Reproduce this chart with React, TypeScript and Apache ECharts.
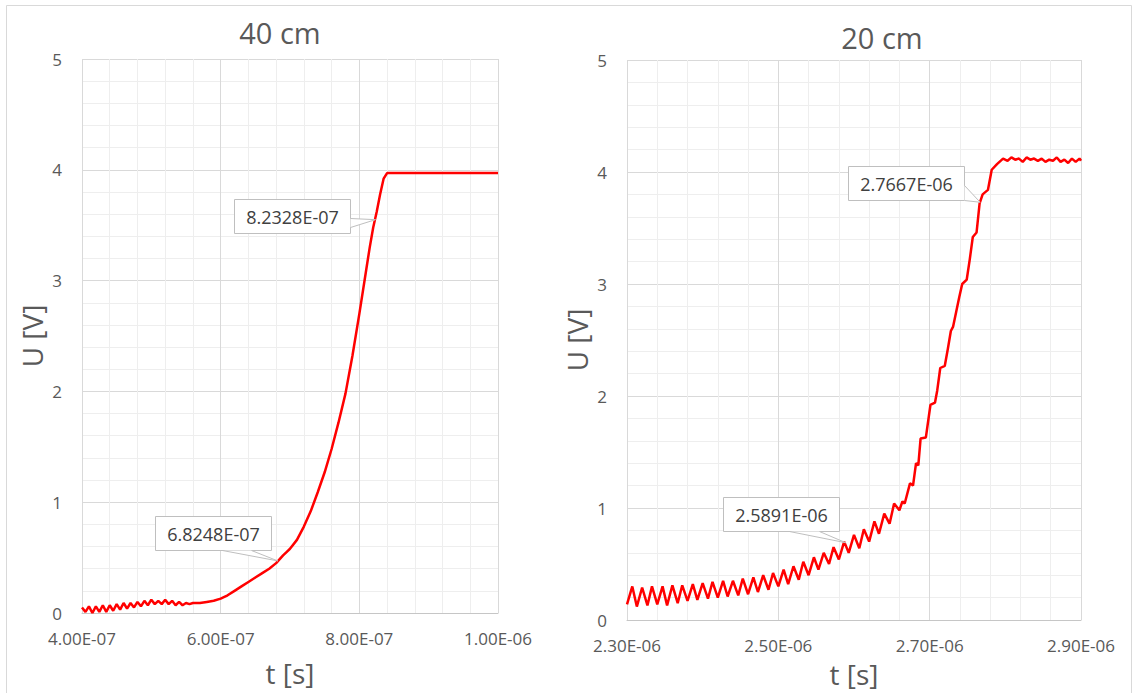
import React, { useEffect, useRef } from 'react';
import * as echarts from 'echarts';

// ---------------- data (time in ns, voltage in V) ----------------
const leftTimeNs = [
  400, 405, 410, 415, 420, 425, 430, 435, 440, 445, 450, 455, 460, 465, 470, 475,
  480, 485, 490, 495, 500, 505, 510, 515, 520, 525, 530, 535, 540, 545, 550, 555,
  560, 570, 580, 590, 600, 610, 620, 630, 640, 650, 660, 670, 680, 690, 695, 700,
  710, 720, 730, 740, 750, 760, 770, 780, 790, 800, 810, 815, 820, 825, 830, 835,
  840, 850, 900, 950, 1000,
];
const leftVoltage = [
  0.05, 0.01, 0.06, 0.0, 0.06, 0.01, 0.07, 0.01, 0.07, 0.02, 0.08, 0.03, 0.09, 0.04, 0.09, 0.05,
  0.1, 0.06, 0.11, 0.07, 0.12, 0.08, 0.11, 0.08, 0.12, 0.08, 0.11, 0.07, 0.1, 0.07, 0.09, 0.08,
  0.09, 0.09, 0.1, 0.11, 0.13, 0.16, 0.2, 0.24, 0.28, 0.32, 0.36, 0.4, 0.45, 0.52, 0.55, 0.58,
  0.66, 0.78, 0.92, 1.09, 1.27, 1.48, 1.72, 1.98, 2.32, 2.7, 3.1, 3.3, 3.48, 3.62, 3.78, 3.92,
  3.97, 3.97, 3.97, 3.97, 3.97,
];

const rightTimeNs = [
  2300, 2307, 2313, 2320, 2327, 2333, 2340, 2347, 2353, 2360, 2367, 2373, 2380, 2387, 2393,
  2400, 2407, 2413, 2420, 2427, 2433, 2440, 2447, 2453, 2460, 2467, 2473, 2480, 2487, 2493,
  2500, 2507, 2513, 2520, 2527, 2533, 2540, 2547, 2553, 2560, 2567, 2573, 2580, 2587, 2593,
  2600, 2607, 2613, 2620, 2627, 2633, 2640, 2647, 2653, 2660, 2664, 2667, 2674, 2678, 2682,
  2685, 2688, 2695, 2701, 2707, 2710, 2714, 2720, 2724, 2728, 2731, 2735, 2739, 2743, 2749,
  2753, 2757, 2762, 2766, 2770, 2777, 2782, 2789, 2797, 2803, 2808, 2813, 2818, 2823, 2828,
  2833, 2838, 2843, 2848, 2853, 2858, 2863, 2868, 2873, 2878, 2883, 2888, 2893, 2898, 2900,
];
const rightVoltage = [
  0.14, 0.3, 0.12, 0.29, 0.13, 0.3, 0.14, 0.3, 0.13, 0.31, 0.15, 0.31, 0.17, 0.32, 0.18,
  0.33, 0.19, 0.34, 0.2, 0.35, 0.21, 0.35, 0.22, 0.37, 0.23, 0.38, 0.25, 0.4, 0.27, 0.42,
  0.3, 0.45, 0.32, 0.48, 0.36, 0.52, 0.4, 0.56, 0.45, 0.6, 0.5, 0.65, 0.54, 0.7, 0.6,
  0.76, 0.64, 0.81, 0.7, 0.88, 0.77, 0.95, 0.86, 1.04, 0.98, 1.06, 1.04, 1.22, 1.2, 1.4,
  1.38, 1.62, 1.63, 1.92, 1.94, 2.05, 2.25, 2.27, 2.42, 2.58, 2.62, 2.75, 2.88, 3.0, 3.04,
  3.22, 3.42, 3.46, 3.72, 3.8, 3.84, 4.02, 4.07, 4.12, 4.1, 4.13, 4.11, 4.12, 4.09, 4.13,
  4.11, 4.12, 4.1, 4.12, 4.09, 4.11, 4.1, 4.13, 4.09, 4.11, 4.08, 4.12, 4.09, 4.12, 4.1,
];

const leftCalloutTimesNs = [823.28, 682.48];
const leftCalloutVoltages = [3.55, 0.47];
const rightCalloutTimesNs = [2766.7, 2589.1];
const rightCalloutVoltages = [3.73, 0.69];

const chartTitles = ['40 cm', '20 cm'];
const xAxisName = 't [s]';
const yAxisName = 'U [V]';

const RIGHT_T0 = 2300; // offset so that ticks start at a multiple of the interval

// ---------------- helpers ----------------
const FONT = "'Open Sans', 'DejaVu Sans', sans-serif";
const GREY = '#595959';

function sci(seconds: number, digits: number): string {
  const s = seconds.toExponential(digits);
  const [m, e] = s.split('e');
  const n = parseInt(e, 10);
  return m + 'E' + (n < 0 ? '-' : '+') + String(Math.abs(n)).padStart(2, '0');
}

function makeXAxis(gridIndex: number, min: number, max: number, offset: number, nameGap: number) {
  return {
    type: 'value',
    gridIndex,
    min,
    max,
    interval: 200,
    axisLine: { show: true, lineStyle: { color: '#c6c6c6', width: 1 } },
    axisTick: { show: false },
    axisLabel: {
      color: GREY,
      fontSize: 17,
      fontFamily: FONT,
      margin: 17,
      formatter: (v: number) => sci((v + offset) * 1e-9, 2),
    },
    splitLine: { show: true, lineStyle: { color: '#d9d9d9', width: 1 } },
    minorTick: { show: false, splitNumber: 5 },
    minorSplitLine: { show: true, lineStyle: { color: '#eeeeee', width: 1 } },
    name: xAxisName,
    nameLocation: 'middle',
    nameGap,
    nameTextStyle: { color: GREY, fontSize: 28, fontFamily: FONT },
  };
}

function makeYAxis(gridIndex: number) {
  return {
    type: 'value',
    gridIndex,
    min: 0,
    max: 5,
    interval: 1,
    axisLine: { show: false },
    axisTick: { show: false },
    axisLabel: { color: GREY, fontSize: 17, fontFamily: FONT, margin: 20 },
    splitLine: { show: true, lineStyle: { color: '#d9d9d9', width: 1 } },
    minorTick: { show: false, splitNumber: 5 },
    minorSplitLine: { show: true, lineStyle: { color: '#eeeeee', width: 1 } },
    name: yAxisName,
    nameLocation: 'middle',
    nameRotate: 90,
    nameGap: 36,
    nameTextStyle: { color: GREY, fontSize: 28, fontFamily: FONT },
  };
}

// callout geometry (box relative to the pointed data point, wedge base relative to box)
const BOX_W = 116;
const BOX_H = 34;
const calloutGeometry = [
  { dx: -141, dy: -21, base: [[116, 19], [116, 28]] },
  { dx: -123, dy: -45, base: [[67, 34], [96, 34]] },
  { dx: -132, dy: -36, base: [[116, 19], [116, 34]] },
  { dx: -123, dy: -46, base: [[66, 34], [96, 34]] },
];

export default function App() {
  const ref = useRef<HTMLDivElement>(null);

  useEffect(() => {
    if (!ref.current) return;
    const chart = echarts.init(ref.current, null, { renderer: 'svg' });

    const leftData = leftTimeNs.map((t, i) => [t, leftVoltage[i]]);
    const rightData = rightTimeNs.map((t, i) => [t - RIGHT_T0, rightVoltage[i]]);

    const option: any = {
      animation: false,
      backgroundColor: '#ffffff',
      textStyle: { fontFamily: FONT },
      grid: [
        { left: 82, right: 637, top: 59, bottom: 80 },
        { left: 627, right: 54, top: 60, bottom: 73 },
      ],
      xAxis: [makeXAxis(0, 400, 1000, 0, 46), makeXAxis(1, 0, 600, RIGHT_T0, 40)],
      yAxis: [makeYAxis(0), makeYAxis(1)],
      series: [
        {
          type: 'line',
          xAxisIndex: 0,
          yAxisIndex: 0,
          data: leftData,
          symbol: 'none',
          showSymbol: false,
          lineStyle: { color: '#ff0000', width: 2.5 },
          z: 3,
        },
        {
          type: 'line',
          xAxisIndex: 1,
          yAxisIndex: 1,
          data: rightData,
          symbol: 'none',
          showSymbol: false,
          lineStyle: { color: '#ff0000', width: 2.5 },
          z: 3,
        },
      ],
    };
    chart.setOption(option);

    const graphics: any[] = [
      {
        type: 'rect',
        silent: true,
        z: 0,
        shape: { x: 6.5, y: 5.5, width: 1125, height: 720 },
        style: { fill: 'none', stroke: '#d9d9d9', lineWidth: 1 },
      },
      {
        type: 'text',
        x: 280,
        y: 32,
        style: {
          text: chartTitles[0],
          align: 'center',
          verticalAlign: 'middle',
          fontSize: 29,
          fontFamily: FONT,
          fill: GREY,
        },
      },
      {
        type: 'text',
        x: 882,
        y: 37,
        style: {
          text: chartTitles[1],
          align: 'center',
          verticalAlign: 'middle',
          fontSize: 29,
          fontFamily: FONT,
          fill: GREY,
        },
      },
    ];

    const callouts = [
      { grid: 0, t: leftCalloutTimesNs[0], x: leftCalloutTimesNs[0], v: leftCalloutVoltages[0] },
      { grid: 0, t: leftCalloutTimesNs[1], x: leftCalloutTimesNs[1], v: leftCalloutVoltages[1] },
      { grid: 1, t: rightCalloutTimesNs[0], x: rightCalloutTimesNs[0] - RIGHT_T0, v: rightCalloutVoltages[0] },
      { grid: 1, t: rightCalloutTimesNs[1], x: rightCalloutTimesNs[1] - RIGHT_T0, v: rightCalloutVoltages[1] },
    ];

    callouts.forEach((c, i) => {
      const p = chart.convertToPixel({ gridIndex: c.grid } as any, [c.x, c.v]) as number[];
      const g = calloutGeometry[i];
      const bx = Math.round(p[0] + g.dx) + 0.5;
      const by = Math.round(p[1] + g.dy) + 0.5;
      const b1 = [bx + g.base[0][0], by + g.base[0][1]];
      const b2 = [bx + g.base[1][0], by + g.base[1][1]];
      graphics.push({
        type: 'rect',
        z: 10,
        shape: { x: bx, y: by, width: BOX_W, height: BOX_H },
        style: { fill: '#ffffff', stroke: '#bfbfbf', lineWidth: 1 },
      });
      graphics.push({
        type: 'polygon',
        z: 11,
        shape: { points: [b1, [p[0], p[1]], b2] },
        style: { fill: '#ffffff', stroke: 'none' },
      });
      graphics.push({
        type: 'polyline',
        z: 12,
        shape: { points: [b1, [p[0], p[1]], b2] },
        style: { fill: 'none', stroke: '#bfbfbf', lineWidth: 1 },
      });
      graphics.push({
        type: 'text',
        z: 13,
        x: bx + BOX_W / 2,
        y: by + BOX_H / 2,
        style: {
          text: sci(c.t * 1e-9, 4),
          align: 'center',
          verticalAlign: 'middle',
          fontSize: 18,
          fontFamily: FONT,
          fill: '#404040',
        },
      });
    });

    chart.setOption({ graphic: graphics });

    return () => {
      chart.dispose();
    };
  }, []);

  return (
    <div
      ref={ref}
      style={{ position: 'absolute', left: 0, top: 0, width: 1135, height: 693, background: '#fff' }}
    />
  );
}
